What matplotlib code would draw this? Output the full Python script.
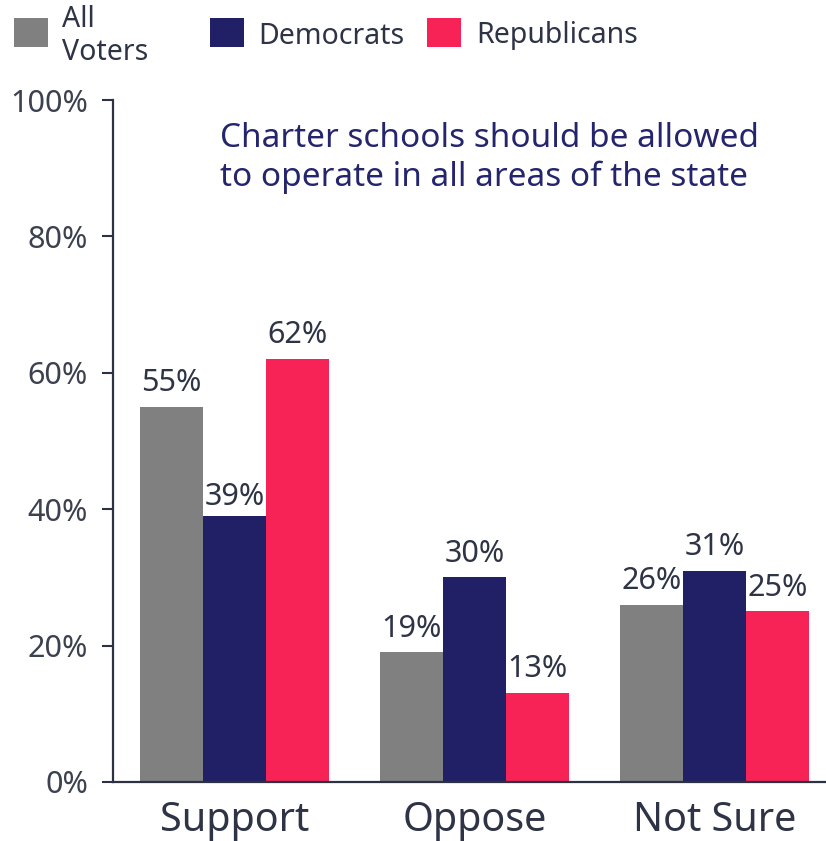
import matplotlib
matplotlib.use("Agg")
import matplotlib.pyplot as plt
import numpy as np
from matplotlib.patches import Rectangle

plt.rcParams['font.family'] = ['Noto Sans', 'DejaVu Sans']

categories = ["Support", "Oppose", "Not Sure"]
series_names = ["All\nVoters", "Democrats", "Republicans"]
all_voters = [55, 19, 26]
democrats = [39, 30, 31]
republicans = [62, 13, 25]
yticks = [0, 20, 40, 60, 80, 100]
ytick_labels = ["0%", "20%", "40%", "60%", "80%", "100%"]

colors = ["#808080", "#212066", "#f72356"]
text_color = "#2e3446"
axis_color = "#2e3142"

fig = plt.figure(figsize=(8.26, 8.41), dpi=100)
ax = fig.add_axes([0.1368, 0.0702, 0.8632, 0.8108])

x = np.arange(len(categories))
width = 0.2625
series = [all_voters, democrats, republicans]
for i, (vals, col) in enumerate(zip(series, colors)):
    pos = x + (i - 1) * width
    ax.bar(pos, vals, width=width, color=col, linewidth=0)
    for px, v in zip(pos, vals):
        if i == 1 and v == 39:
            ax.text(px, v + 0.6, f"{v}%", ha="center", va="bottom",
                    fontsize=22, color=text_color,
                    bbox=dict(facecolor="white", edgecolor="none", pad=1.0))
        else:
            ax.text(px, v + 1.3, f"{v}%", ha="center", va="bottom",
                    fontsize=22, color=text_color)

ax.set_xlim(-0.506, 2.465)
ax.set_ylim(0, 100)
ax.set_yticks(yticks)
ax.set_yticklabels(ytick_labels, fontsize=22, color="#3c4150")
ax.set_xticks(x)
ax.set_xticklabels(categories, fontsize=28.5, color=text_color)
ax.tick_params(axis="x", length=0, pad=14)
ax.tick_params(axis="y", length=8, width=1.5, color=axis_color, pad=10)

for s in ["top", "right"]:
    ax.spines[s].set_visible(False)
ax.spines["left"].set_color(axis_color)
ax.spines["left"].set_linewidth(1.6)
ax.spines["bottom"].set_color(axis_color)
ax.spines["bottom"].set_linewidth(1.6)

ax.text(220 / 826, 1 - 158 / 841, "Charter schools should be allowed\nto operate in all areas of the state",
        transform=fig.transFigure, ha="left", va="center", fontsize=24,
        color="#25256e", linespacing=1.2)

# Legend drawn in figure coordinates
legend_items = [(14, 62, series_names[0]), (210, 258, series_names[1]), (427, 476, series_names[2])]
for (px, tx, name), col in zip(legend_items, colors):
    fig.patches.append(Rectangle((px / 826, 1 - 47 / 841), 34 / 826, 29 / 841,
                                 transform=fig.transFigure, facecolor=col,
                                 edgecolor="none"))
    fig.text(tx / 826, 1 - 36 / 841, name, ha="left", va="center",
             fontsize=20.5, color=text_color, linespacing=1.15)

fig.savefig("out.png", dpi=100)
